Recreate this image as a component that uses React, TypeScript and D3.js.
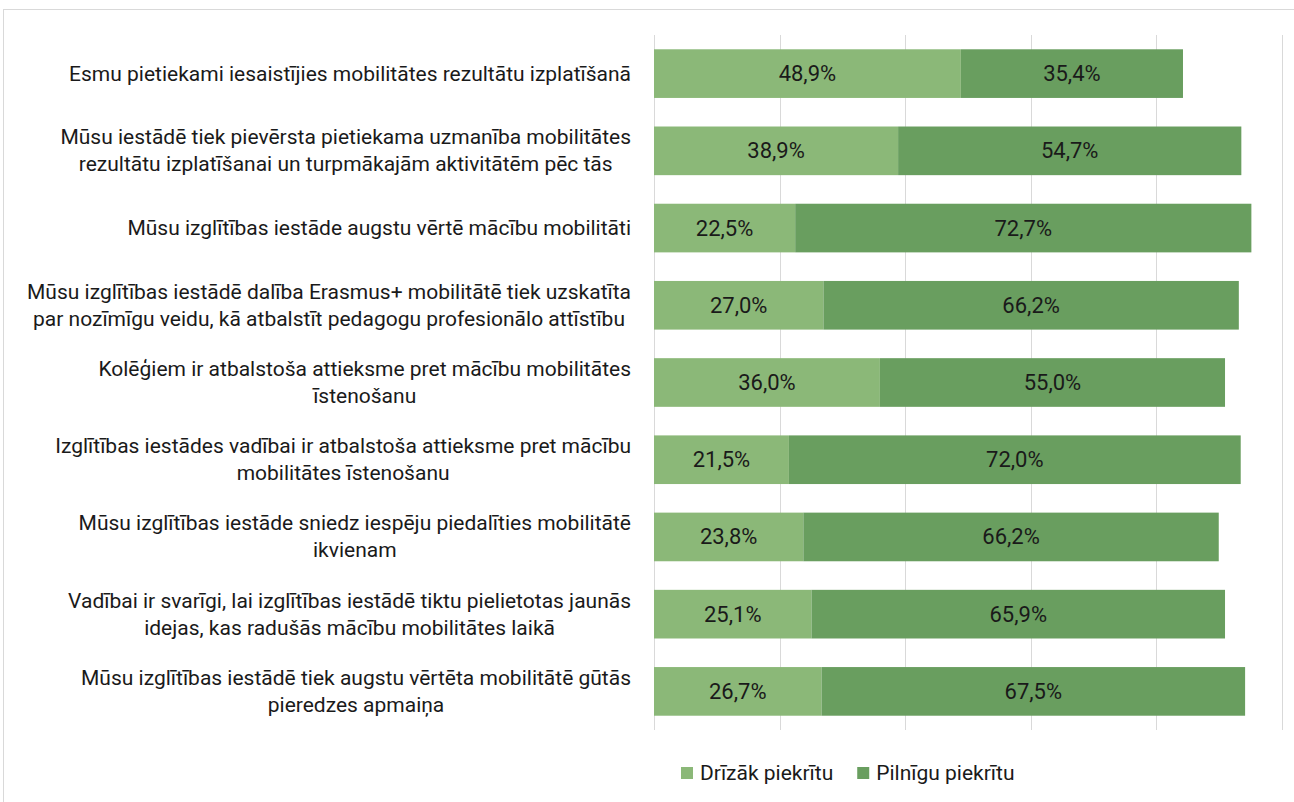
import * as React from 'react';
import * as d3 from 'd3';

const categories = [
  ['Esmu pietiekami iesaistījies mobilitātes rezultātu izplatīšanā'],
  ['Mūsu iestādē tiek pievērsta pietiekama uzmanība mobilitātes', 'rezultātu izplatīšanai un turpmākajām aktivitātēm pēc tās'],
  ['Mūsu izglītības iestāde augstu vērtē mācību mobilitāti'],
  ['Mūsu izglītības iestādē dalība Erasmus+ mobilitātē tiek uzskatīta', 'par nozīmīgu veidu, kā atbalstīt pedagogu profesionālo attīstību'],
  ['Kolēģiem ir atbalstoša attieksme pret mācību mobilitātes', 'īstenošanu'],
  ['Izglītības iestādes vadībai ir atbalstoša attieksme pret mācību', 'mobilitātes īstenošanu'],
  ['Mūsu izglītības iestāde sniedz iespēju piedalīties mobilitātē', 'ikvienam'],
  ['Vadībai ir svarīgi, lai izglītības iestādē tiktu pielietotas jaunās', 'idejas, kas radušās mācību mobilitātes laikā'],
  ['Mūsu izglītības iestādē tiek augstu vērtēta mobilitātē gūtās', 'pieredzes apmaiņa'],
];
const drizak = [48.9, 38.9, 22.5, 27.0, 36.0, 21.5, 23.8, 25.1, 26.7];
const pilnigu = [35.4, 54.7, 72.7, 66.2, 55.0, 72.0, 66.2, 65.9, 67.5];
const seriesNames = ['Drīzāk piekrītu', 'Pilnīgu piekrītu'];
const colors = ['#8bb878', '#699e5f'];
const ticks = [0, 20, 40, 60, 80, 100];

const FONT = "'Liberation Sans Narrow', 'Roboto', sans-serif";

export default function App() {
  const ref = React.useRef<SVGSVGElement>(null);

  React.useEffect(() => {
    const svg = d3.select(ref.current);
    svg.selectAll('*').remove();

    svg.append('rect')
      .attr('x', 3.5).attr('y', 9.5).attr('width', 1300).attr('height', 800)
      .attr('fill', '#fff').attr('stroke', '#d9d9d9');

    const x = d3.scaleLinear().domain([0, 100]).range([654, 1281.5]);
    const y = d3.scaleBand<number>()
      .domain(d3.range(categories.length))
      .range([35, 730])
      .paddingInner(0.37)
      .paddingOuter(0.185);

    const grid = svg.append('g');
    grid.selectAll('line').data(ticks).join('line')
      .attr('x1', d => Math.round(x(d)) + 0.5).attr('x2', d => Math.round(x(d)) + 0.5)
      .attr('y1', 35).attr('y2', 730)
      .attr('stroke', '#d9d9d9').attr('stroke-width', 1);

    const rows = svg.append('g').selectAll('g').data(categories).join('g');

    rows.each(function (_, i) {
      const g = d3.select(this);
      const y0 = y(i)!;
      const h = y.bandwidth();
      const segs = [
        { start: 0, val: drizak[i], color: colors[0] },
        { start: drizak[i], val: pilnigu[i], color: colors[1] },
      ];
      g.selectAll('rect').data(segs).join('rect')
        .attr('x', d => x(d.start)).attr('y', y0)
        .attr('width', d => x(d.start + d.val) - x(d.start)).attr('height', h)
        .attr('fill', d => d.color);
      g.selectAll('text.val').data(segs).join('text')
        .attr('class', 'val')
        .attr('x', d => x(d.start + d.val / 2)).attr('y', y0 + h / 2)
        .attr('text-anchor', 'middle').attr('dominant-baseline', 'central')
        .attr('font-family', FONT).attr('font-size', 22).attr('fill', '#1a1a1a')
        .text(d => d.val.toFixed(1).replace('.', ',') + '%');
    });

    // category labels: block right-aligned, lines centred within block
    rows.each(function (lines, i) {
      const g = d3.select(this);
      const cy = y(i)! + y.bandwidth() / 2;
      const lh = 27;
      const texts = g.selectAll('text.cat').data(lines).join('text')
        .attr('class', 'cat')
        .attr('font-family', FONT).attr('font-size', 21).attr('fill', '#1a1a1a')
        .attr('text-anchor', 'middle').attr('dominant-baseline', 'central')
        .attr('y', (_, j) => cy + (j - (lines.length - 1) / 2) * lh)
        .text(d => d);
      let maxW = 0;
      texts.each(function () {
        maxW = Math.max(maxW, (this as SVGTextElement).getComputedTextLength());
      });
      texts.attr('x', 631 - maxW / 2);
    });

    const legend = svg.append('g');
    let lx = 681;
    seriesNames.forEach((name, i) => {
      legend.append('rect').attr('x', lx).attr('y', 767).attr('width', 12).attr('height', 12).attr('fill', colors[i]);
      const t = legend.append('text')
        .attr('x', lx + 19).attr('y', 773)
        .attr('dominant-baseline', 'central')
        .attr('font-family', FONT).attr('font-size', 21).attr('fill', '#1a1a1a')
        .text(name);
      lx += 19 + (t.node() as SVGTextElement).getComputedTextLength() + 24;
    });
  }, []);

  return (
    <svg ref={ref} width={1294} height={802} style={{ position: 'absolute', left: 0, top: 0 }} />
  );
}
